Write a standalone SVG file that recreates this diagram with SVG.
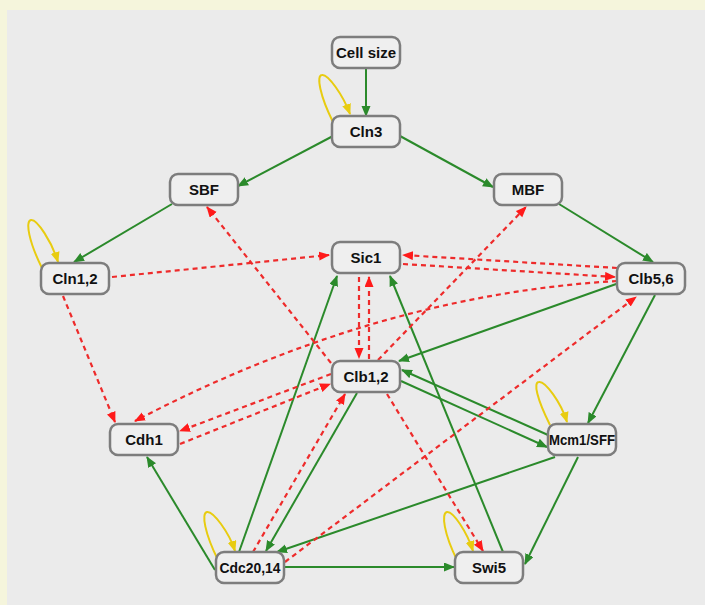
<svg xmlns="http://www.w3.org/2000/svg" width="705" height="605" viewBox="0 0 705 605">
<defs>
<style>
.node rect{fill:#efefef;stroke:#7d7d7d;stroke-width:2.5}
.node text{font-family:"Liberation Sans",Arial,sans-serif;font-weight:bold;font-size:15px;fill:#111;text-anchor:middle}
.act{stroke:#2b8a2b;stroke-width:2;fill:none;marker-end:url(#ga)}
.inh{stroke:#ee2b2b;stroke-width:2.2;fill:none;stroke-dasharray:5 4;marker-end:url(#ra)}
.self{stroke:#e8cc10;stroke-width:2;fill:none;marker-end:url(#ya)}
</style>
<marker id="ga" markerUnits="userSpaceOnUse" markerWidth="12" markerHeight="10" refX="10" refY="4.5" orient="auto"><path d="M0,0 L11,4.5 L0,9 z" fill="#2b8a2b"/></marker>
<marker id="ra" markerUnits="userSpaceOnUse" markerWidth="12" markerHeight="10" refX="10" refY="4.5" orient="auto"><path d="M0,0 L11,4.5 L0,9 z" fill="#ff1a1a"/></marker>
<marker id="ya" markerUnits="userSpaceOnUse" markerWidth="12" markerHeight="10" refX="10" refY="4.5" orient="auto"><path d="M0,0 L11,4.5 L0,9 z" fill="#e8cc10"/></marker>
</defs>
<rect x="0" y="0" width="705" height="605" fill="#f5f5dc"/>
<rect x="7" y="10" width="698" height="595" fill="#ebebeb"/>
<g id="connectors">
<!-- activation -->
<line class="act" x1="366" y1="68" x2="366" y2="116"/>
<line class="act" x1="333" y1="136" x2="238" y2="186"/>
<line class="act" x1="400" y1="136" x2="493" y2="187"/>
<line class="act" x1="172" y1="204" x2="74" y2="262"/>
<line class="act" x1="559" y1="204" x2="653" y2="262"/>
<line class="act" x1="619" y1="283" x2="399" y2="361"/>
<line class="act" x1="655" y1="295" x2="588" y2="423"/>
<line class="act" x1="401" y1="381" x2="547" y2="447"/>
<line class="act" x1="548" y1="435" x2="402" y2="370"/>
<line class="act" x1="357" y1="393" x2="266" y2="551"/>
<line class="act" x1="239" y1="552" x2="337" y2="276"/>
<line class="act" x1="503" y1="552" x2="390" y2="276"/>
<line class="act" x1="555" y1="457" x2="277" y2="552"/>
<line class="act" x1="578" y1="457" x2="525" y2="564"/>
<line class="act" x1="215" y1="570" x2="147" y2="457"/>
<line class="act" x1="285" y1="567" x2="454" y2="567"/>
<!-- inhibition -->
<line class="inh" x1="112" y1="277" x2="329" y2="255"/>
<line class="inh" x1="63" y1="296" x2="115" y2="422"/>
<line class="inh" x1="617" y1="268" x2="403" y2="255"/>
<line class="inh" x1="403" y1="264" x2="615" y2="277"/>
<path class="inh" d="M617,281 Q376,295 135,421"/>
<line class="inh" x1="359" y1="277" x2="359" y2="358"/>
<line class="inh" x1="369" y1="359" x2="369" y2="277"/>
<line class="inh" x1="331" y1="363" x2="207" y2="207"/>
<line class="inh" x1="378" y1="360" x2="526" y2="207"/>
<line class="inh" x1="387" y1="394" x2="483" y2="551"/>
<line class="inh" x1="253" y1="552" x2="345" y2="394"/>
<line class="inh" x1="285" y1="562" x2="636" y2="297"/>
<line class="inh" x1="331" y1="374" x2="180" y2="431"/>
<line class="inh" x1="180" y1="444" x2="330" y2="384"/>
<!-- self loops -->
<path class="self" d="M333,122 C320,96 316,75 322,75 C328,74 343,95 350,114"/>
<path class="self" d="M42,268 C29,242 25,221 31,220 C37,219 52,242 58,262"/>
<path class="self" d="M550,425 C537,399 533,382 539,382 C545,381 561,402 567,422"/>
<path class="self" d="M218,560 C205,534 201,513 207,512 C213,511 229,532 235,551"/>
<path class="self" d="M457,560 C444,534 441,513 447,512 C453,511 467,532 473,551"/>
</g>
<g id="n-cellsize" class="node"><rect x="332" y="37" width="68" height="31" rx="8"/><text x="366" y="58">Cell size</text></g>
<g id="n-cln3" class="node"><rect x="332" y="116" width="68" height="31" rx="8"/><text x="366" y="137">Cln3</text></g>
<g id="n-sbf" class="node"><rect x="170" y="174" width="68" height="31" rx="8"/><text x="204" y="195">SBF</text></g>
<g id="n-mbf" class="node"><rect x="494" y="174" width="68" height="31" rx="8"/><text x="528" y="195">MBF</text></g>
<g id="n-cln12" class="node"><rect x="41" y="263" width="68" height="31" rx="8"/><text x="75" y="284">Cln1,2</text></g>
<g id="n-sic1" class="node"><rect x="332" y="242" width="68" height="31" rx="8"/><text x="366" y="263">Sic1</text></g>
<g id="n-clb56" class="node"><rect x="617" y="263" width="68" height="31" rx="8"/><text x="651" y="284">Clb5,6</text></g>
<g id="n-clb12" class="node"><rect x="332" y="361" width="68" height="31" rx="8"/><text x="366" y="382">Clb1,2</text></g>
<g id="n-cdh1" class="node"><rect x="110" y="424" width="68" height="31" rx="8"/><text x="144" y="445">Cdh1</text></g>
<g id="n-mcm1" class="node"><rect x="548" y="424" width="68" height="31" rx="8"/><text x="582" y="445" textLength="66" lengthAdjust="spacingAndGlyphs">Mcm1/SFF</text></g>
<g id="n-cdc20" class="node"><rect x="216" y="552" width="68" height="31" rx="8"/><text x="250" y="573" textLength="61" lengthAdjust="spacingAndGlyphs">Cdc20,14</text></g>
<g id="n-swi5" class="node"><rect x="455" y="552" width="68" height="31" rx="8"/><text x="489" y="573">Swi5</text></g>
</svg>
